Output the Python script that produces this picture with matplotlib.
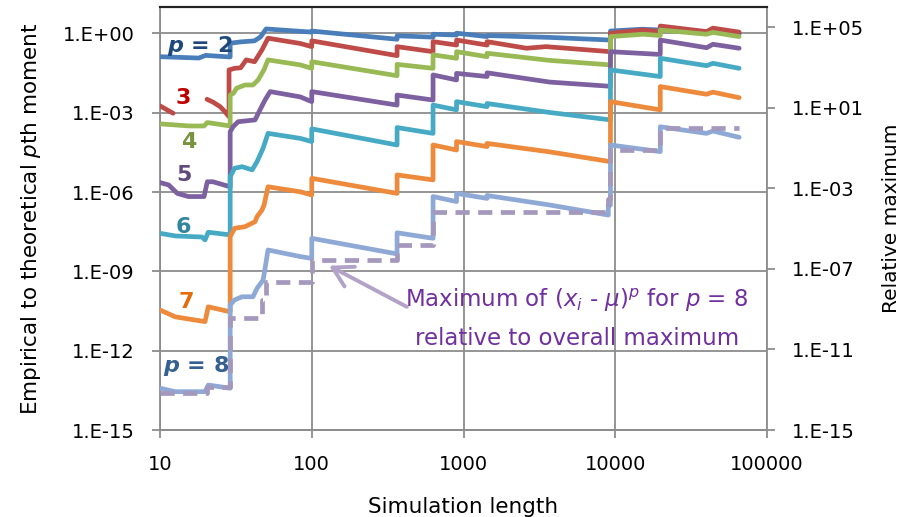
import numpy as np
import matplotlib.pyplot as plt
from matplotlib.ticker import FixedLocator, FuncFormatter, NullLocator

# simulation length (n) and log10 of empirical/theoretical p-th moment
p2_n = [10, 18, 20, 29, 29, 34, 42, 46, 50, 84, 100, 100, 365, 365, 630, 630, 900, 900, 1430, 1430,
        3700, 9300, 9300, 15000, 19800, 19800, 40000, 44000, 65536]
p2_e = [-0.88, -0.93, -0.83, -0.89, -0.37, -0.32, -0.28, -0.13, 0.17, 0.08, 0.05, 0.09, -0.22, -0.09,
        -0.14, -0.03, -0.06, 0.01, -0.12, -0.08, -0.15, -0.25, 0.09, 0.16, 0.13, 0.21, 0.03, 0.12, -0.01]

# third moment goes negative for a while -> gap in the log plot
p3_n = [10, 12.2, 16, 20.4, 22.4, 24.9, 26.8, 28.5, 28.5, 31, 34, 37, 42, 47, 51.5, 84, 100, 100,
        365, 365, 630, 630, 900, 900, 1430, 1430, 2600, 3500, 9300, 9300, 15300, 19800, 19800,
        40000, 44000, 65536]
p3_e = [-2.74, -3.02, np.nan, -2.49, -2.60, -2.77, -2.96, -3.15, -1.38, -1.32, -1.30, -1.00, -1.07,
        -0.62, -0.18, -0.38, -0.50, -0.28, -0.84, -0.50, -0.69, -0.31, -0.44, -0.25, -0.44, -0.31,
        -0.56, -0.50, -0.69, 0.01, 0.13, 0.07, 0.28, 0.07, 0.20, 0.05]

p4_n = [10, 15.6, 19.5, 20.5, 29, 29, 30.5, 32, 36.3, 41, 44.3, 48.4, 51.5, 84, 100, 100, 365, 365,
        630, 630, 900, 900, 1430, 1430, 3700, 9300, 9300, 15300, 19800, 19800, 40000, 44000, 65536]
p4_e = [-3.42, -3.50, -3.50, -3.37, -3.50, -2.33, -2.26, -2.07, -1.95, -1.95, -1.76, -1.38, -1.00,
        -1.19, -1.32, -1.07, -1.60, -1.17, -1.32, -0.81, -0.94, -0.69, -0.88, -0.75, -1.02, -1.19,
        -0.12, -0.03, -0.08, 0.13, -0.03, 0.04, -0.12]

p5_n = [10, 11.4, 13, 15.4, 19.5, 20.5, 22.3, 29, 29, 30.3, 32.7, 42.3, 45.6, 49.2, 53.2, 84, 100,
        100, 365, 365, 630, 630, 900, 900, 1430, 1430, 3700, 9300, 9300, 19200, 19800, 19800,
        40000, 44000, 65536]
p5_e = [-5.64, -5.73, -6.05, -6.17, -6.17, -5.61, -5.61, -5.80, -3.72, -3.53, -3.34, -3.27, -2.89,
        -2.52, -2.20, -2.40, -2.58, -2.20, -2.71, -2.33, -2.52, -1.57, -1.76, -1.51, -1.63, -1.49,
        -1.84, -2.00, -0.69, -0.79, -0.79, -0.25, -0.54, -0.41, -0.56]

p6_n = [10, 12.6, 18.9, 19.8, 20.8, 29, 29, 31, 34.7, 40.5, 43.6, 47.8, 51.5, 84, 100, 100, 365, 365,
        630, 630, 900, 900, 1430, 1430, 3700, 9300, 9300, 19800, 19800, 40000, 44000, 65536]
p6_e = [-7.56, -7.66, -7.70, -7.81, -7.52, -7.62, -5.42, -5.10, -5.04, -5.16, -4.85, -4.34, -3.78,
        -3.97, -4.09, -3.61, -4.22, -3.56, -3.78, -2.71, -2.89, -2.58, -2.77, -2.65, -2.99, -3.27,
        -1.38, -1.63, -0.94, -1.22, -1.13, -1.32]

p7_n = [10, 12.6, 19.8, 20.8, 29, 29, 31, 36.3, 42.3, 43.6, 47, 48.5, 51.5, 84, 100, 100, 365, 365,
        630, 630, 900, 900, 1430, 1430, 3700, 9300, 9300, 19800, 19800, 40000, 44000, 65536]
p7_e = [-10.46, -10.72, -10.90, -10.34, -10.53, -7.69, -7.37, -7.31, -7.12, -6.93, -6.68, -6.49,
        -5.80, -5.99, -6.11, -5.48, -6.05, -5.35, -5.54, -4.22, -4.41, -4.09, -4.28, -4.16, -4.48,
        -4.85, -2.58, -2.89, -2.01, -2.30, -2.22, -2.43]

p8_n = [10, 12.6, 19.8, 20.8, 29, 29, 31, 34.7, 41, 43.6, 47.8, 50, 51.5, 84, 100, 100, 365, 365,
        630, 630, 900, 900, 1430, 1430, 3700, 9000, 9000, 9300, 9300, 19800, 19800, 40000, 44000, 65536]
p8_e = [-13.42, -13.55, -13.55, -13.30, -13.42, -10.27, -10.08, -9.96, -9.96, -9.64, -9.33, -8.65,
        -8.19, -8.44, -8.51, -7.75, -8.34, -7.54, -7.75, -6.17, -6.36, -6.05, -6.24, -6.13, -6.49,
        -6.87, -6.49, -6.49, -4.22, -4.47, -3.53, -3.78, -3.69, -3.93]

# running maximum of (x_i - mu)^8 relative to overall maximum (right axis), log10
mx_n = [10, 20.3, 20.3, 29, 29, 47, 47, 50, 50, 100, 100, 365, 365, 630, 630, 9000, 9000, 9300,
        9300, 19800, 19800, 65536]
mx_e = [-13.18, -13.18, -12.85, -12.85, -9.42, -9.42, -8.55, -8.55, -7.65, -7.65, -6.57, -6.57,
        -5.83, -5.83, -4.18, -4.18, -3.51, -3.51, -1.12, -1.12, 0.0, 0.0]

line_colors = ["#4A7EBB", "#BE4B48", "#98B954", "#7D60A0", "#46AAC5", "#EE8A3B", "#8EA9D6"]
dash_color = "#A598BD"

# series labels: text, n, log10 of baseline height, color
labels = [(r"$\mathbfit{p}$ = 2", 18.4, -0.69, "#1F497D"),
          ("3", 14.3, -2.68, "#C00000"),
          ("4", 15.4, -4.34, "#77933C"),
          ("5", 14.3, -5.57, "#604A7B"),
          ("6", 14.3, -7.56, "#31859C"),
          ("7", 15.0, -10.40, "#E46C0A"),
          (r"$\mathbfit{p}$ = 8", 17.3, -12.80, "#376092")]

grid_col = "#8C8C8C"

fig = plt.figure(figsize=(9.14, 5.17), dpi=100)
ax = fig.add_axes([160 / 914, 87 / 517, 607 / 914, 423 / 517])

series = [(p2_n, p2_e), (p3_n, p3_e), (p4_n, p4_e), (p5_n, p5_e),
          (p6_n, p6_e), (p7_n, p7_e), (p8_n, p8_e)]
for (n, e), c in zip(series, line_colors):
    ax.plot(n, 10.0 ** np.array(e), color=c, lw=3.4,
            solid_joinstyle="round", solid_capstyle="round", zorder=3)

ax.set_xscale("log")
ax.set_yscale("log")
ax.set_xlim(10, 1e5)
ax.set_ylim(1e-15, 10)
ax.xaxis.set_major_locator(FixedLocator([10, 100, 1000, 10000, 100000]))
ax.yaxis.set_major_locator(FixedLocator([10.0 ** k for k in range(-15, 1, 3)]))
ax.xaxis.set_minor_locator(NullLocator())
ax.yaxis.set_minor_locator(NullLocator())

sci = FuncFormatter(lambda v, pos: "1.E{:+03d}".format(int(round(np.log10(v)))))
ax.yaxis.set_major_formatter(sci)
ax.xaxis.set_major_formatter(FuncFormatter(lambda v, pos: "{:.0f}".format(v)))
ax.grid(True, color=grid_col, lw=1.3)
ax.set_axisbelow(True)
ax.tick_params(which="major", length=6, width=1.3, color=grid_col, pad=12, labelsize=14)

for txt, n, e, c in labels:
    ax.text(n, 10.0 ** e, txt, color=c, fontsize=16, fontweight="bold",
            ha="center", va="baseline", zorder=5)

# arrow + note for the dashed curve
ax.annotate("", xy=(130, 10.0 ** -8.785), xytext=(423, 10.0 ** -10.34),
            arrowprops=dict(arrowstyle="->,head_length=0.7,head_width=0.4", color="#B3A2C7",
                            lw=2.8, mutation_scale=20, shrinkA=0, shrinkB=0), zorder=6)
ax.text(5600, 10.0 ** -10.35, r"Maximum of ($x_i$ - $\mu)^p$ for $p$ = 8",
        color="#7030A0", fontsize=16.5, ha="center", va="baseline", zorder=6)
ax.text(5600, 10.0 ** -11.79, "relative to overall maximum",
        color="#7030A0", fontsize=16.5, ha="center", va="baseline", zorder=6)

ax.set_xlabel("Simulation length", fontsize=15.5)
ax.xaxis.set_label_coords(0.5, -0.158)
ax.set_ylabel(r"Empirical to theoretical $p$th moment", fontsize=15.5)
ax.yaxis.set_label_coords(-0.192, 0.5)

# secondary axis for the relative maximum
ax2 = ax.twinx()
ax2.plot(mx_n, 10.0 ** np.array(mx_e), color=dash_color, lw=3.4,
         linestyle=(0, (3.0, 1.8)), dash_capstyle="butt", zorder=4)
ax2.set_yscale("log")
ax2.set_ylim(1e-15, 1e6)
ax2.yaxis.set_major_locator(FixedLocator([10.0 ** k for k in range(-15, 6, 4)]))
ax2.yaxis.set_minor_locator(NullLocator())
ax2.yaxis.set_major_formatter(sci)
ax2.tick_params(which="major", length=6, width=1.3, color=grid_col, pad=12, labelsize=14)
ax2.set_ylabel("Relative maximum", fontsize=14.5)
ax2.yaxis.set_label_coords(1.19, 0.5)

for a in (ax, ax2):
    for side in ("left", "right", "bottom"):
        a.spines[side].set_color(grid_col)
        a.spines[side].set_linewidth(1.3)
    a.spines["top"].set_color("#222222")
    a.spines["top"].set_linewidth(1.5)
ax.spines["right"].set_visible(False)
ax2.spines["left"].set_visible(False)

fig.savefig("out.png", dpi=100)
